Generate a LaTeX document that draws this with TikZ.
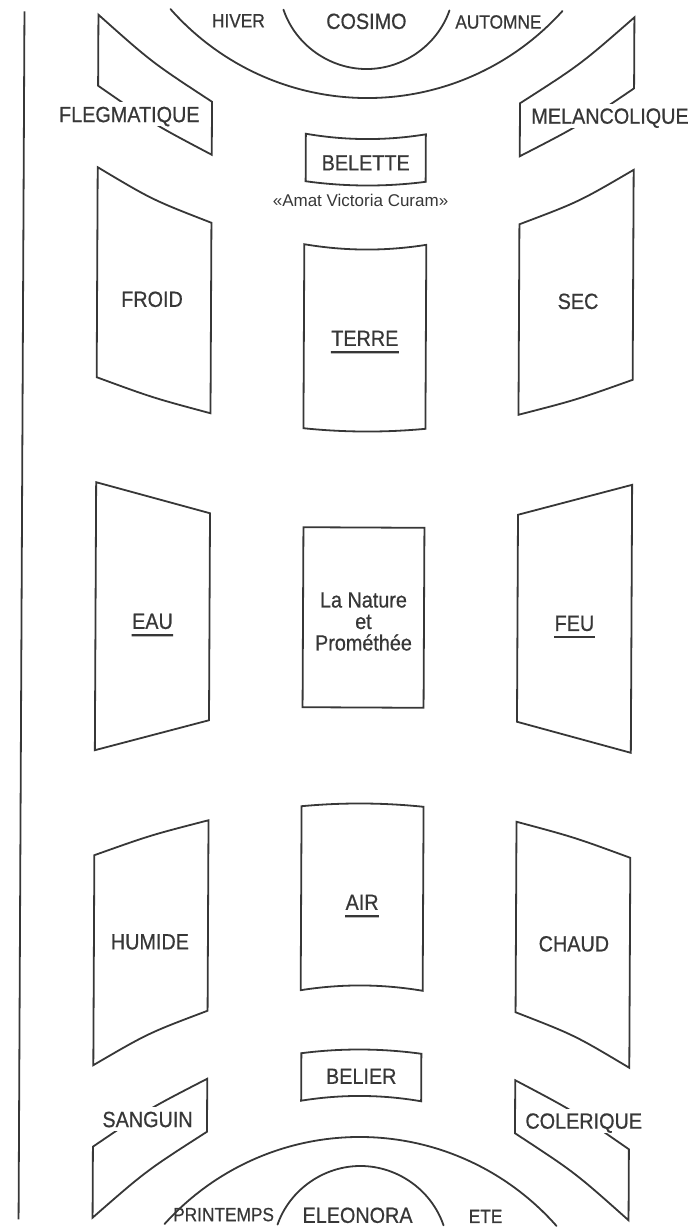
\documentclass[tikz,border=0pt]{standalone}
\usepackage{fontspec}
\setmainfont{Liberation Sans}
\newfontfamily\platefont{Liberation Sans}[FakeStretch=0.9, FakeBold=0.6]
\usepackage{tikz}
\usetikzlibrary{calc}
\definecolor{ink}{RGB}{55,55,55}
\tikzset{
  outline/.style={draw=ink, line width=0.9pt, line join=miter},
  lbl/.style={text=ink, font=\platefont\fontsize{11}{13}\selectfont, inner sep=0pt,
    text height=7.9pt, text depth=0pt},
  cutlbl/.style={lbl, fill=white, inner sep=2pt},
  seasonlbl/.style={lbl, font=\platefont\fontsize{9.6}{11}\selectfont, text height=6.9pt},
  mottolbl/.style={text=ink, font=\fontsize{8.5}{10}\selectfont, inner sep=0pt},
  uline/.style={draw=ink, line width=1.1pt},
}
\begin{document}
\begin{tikzpicture}[x=0.5pt, y=-0.5pt]
  \useasboundingbox (0,0) rectangle (698,1228);
  \begin{scope}[shift={(363.5,617.5)}, rotate=-0.28]
    \draw[outline] (-342,-604.5) -- (-342,603.5);

    % upper half, turned over for the lower half
    \foreach \sy in {1,-1}{
      \begin{scope}[yscale=\sy]
        \draw[outline] (-60,-483.5) .. controls (-20,-476.8) and (20,-476.8) .. (60,-483.5)
          -- (60,-436) .. controls (20,-430.7) and (-20,-430.7) .. (-60,-436) -- cycle;
        \draw[outline] (-61,-373) .. controls (-20,-366.3) and (20,-366.3) .. (61,-373)
          -- (61,-189) .. controls (20,-185) and (-20,-185) .. (-61,-189) -- cycle;
        \foreach \sx in {1,-1}{
          \begin{scope}[xscale=\sx]
            \draw[outline, line cap=round] (-196,-607.5) .. controls (-146,-551.5) and (-75,-519.5) .. (0,-519.5);
            \draw[outline, line cap=round] (-83,-607.5) .. controls (-71,-572.5) and (-37,-548.5) .. (0,-548.5);
            \draw[outline] (-268,-601.5) .. controls (-214.2,-554) .. (-154,-515)
              -- (-154,-462) .. controls (-213.1,-492.8) .. (-268,-530.5) -- cycle;
            \draw[outline] (-268,-449) .. controls (-213.3,-416.7) .. (-154,-394)
              -- (-154,-203.5) .. controls (-211.8,-218.7) .. (-268,-239) -- cycle;
          \end{scope}
        }
      \end{scope}
    }
    \foreach \sx in {1,-1}
      \draw[outline, xscale=\sx] (-268,-134) -- (-154,-103.5) -- (-154,103.5) -- (-268,134) -- cycle;
    \draw[outline] (-60.5,-90) rectangle (60.5,90);

    \node[seasonlbl] (hiver) at (-128,-596.5) {HIVER};
    \node[lbl] (cosimo) at (0,-596.5) {COSIMO};
    \node[seasonlbl] (automne) at (132,-596.5) {AUTOMNE};
    \node[cutlbl, anchor=east] (flegmatique) at (-162,-502.5) {FLEGMATIQUE};
    \node[cutlbl, anchor=west] (melancolique) at (161,-502.5) {MELANCOLIQUE};
    \node[lbl] (belette) at (0,-455) {BELETTE};
    \node[mottolbl] (motto) at (-5,-417.5) {«Amat Victoria Curam»};

    \node[lbl] (froid) at (-213,-317.5) {FROID};
    \node[lbl] (sec) at (213,-317.5) {SEC};
    \node[lbl] (terre) at (0,-279.5) {TERRE};

    \node[lbl] (eau) at (-211,4.5) {EAU};
    \node[lbl] (feu) at (211,4.5) {FEU};
    \node[text=ink, font=\platefont\fontsize{11}{10.75}\selectfont, align=center, inner sep=0pt]
      (nature) at (0,4) {La Nature\\et\\Prométhée};

    \node[lbl] (air) at (0,284.5) {AIR};
    \node[lbl] (humide) at (-212,325) {HUMIDE};
    \node[lbl] (chaud) at (212,325) {CHAUD};
    \node[lbl] (belier) at (0,458.5) {BELIER};
    \node[cutlbl, anchor=east] (sanguin) at (-164,502.5) {SANGUIN};
    \node[cutlbl, anchor=west] (colerique) at (160,502.5) {COLERIQUE};

    \node[seasonlbl] (printemps) at (-137,597.5) {PRINTEMPS};
    \node[lbl] (eleonora) at (-3,597.5) {ELEONORA};
    \node[seasonlbl] (ete) at (125,598) {ETE};

    \foreach \n in {terre,eau,feu,air}
      \draw[uline] ([yshift=-3pt]\n.south west) -- ([yshift=-3pt]\n.south east);
  \end{scope}
\end{tikzpicture}
\end{document}
